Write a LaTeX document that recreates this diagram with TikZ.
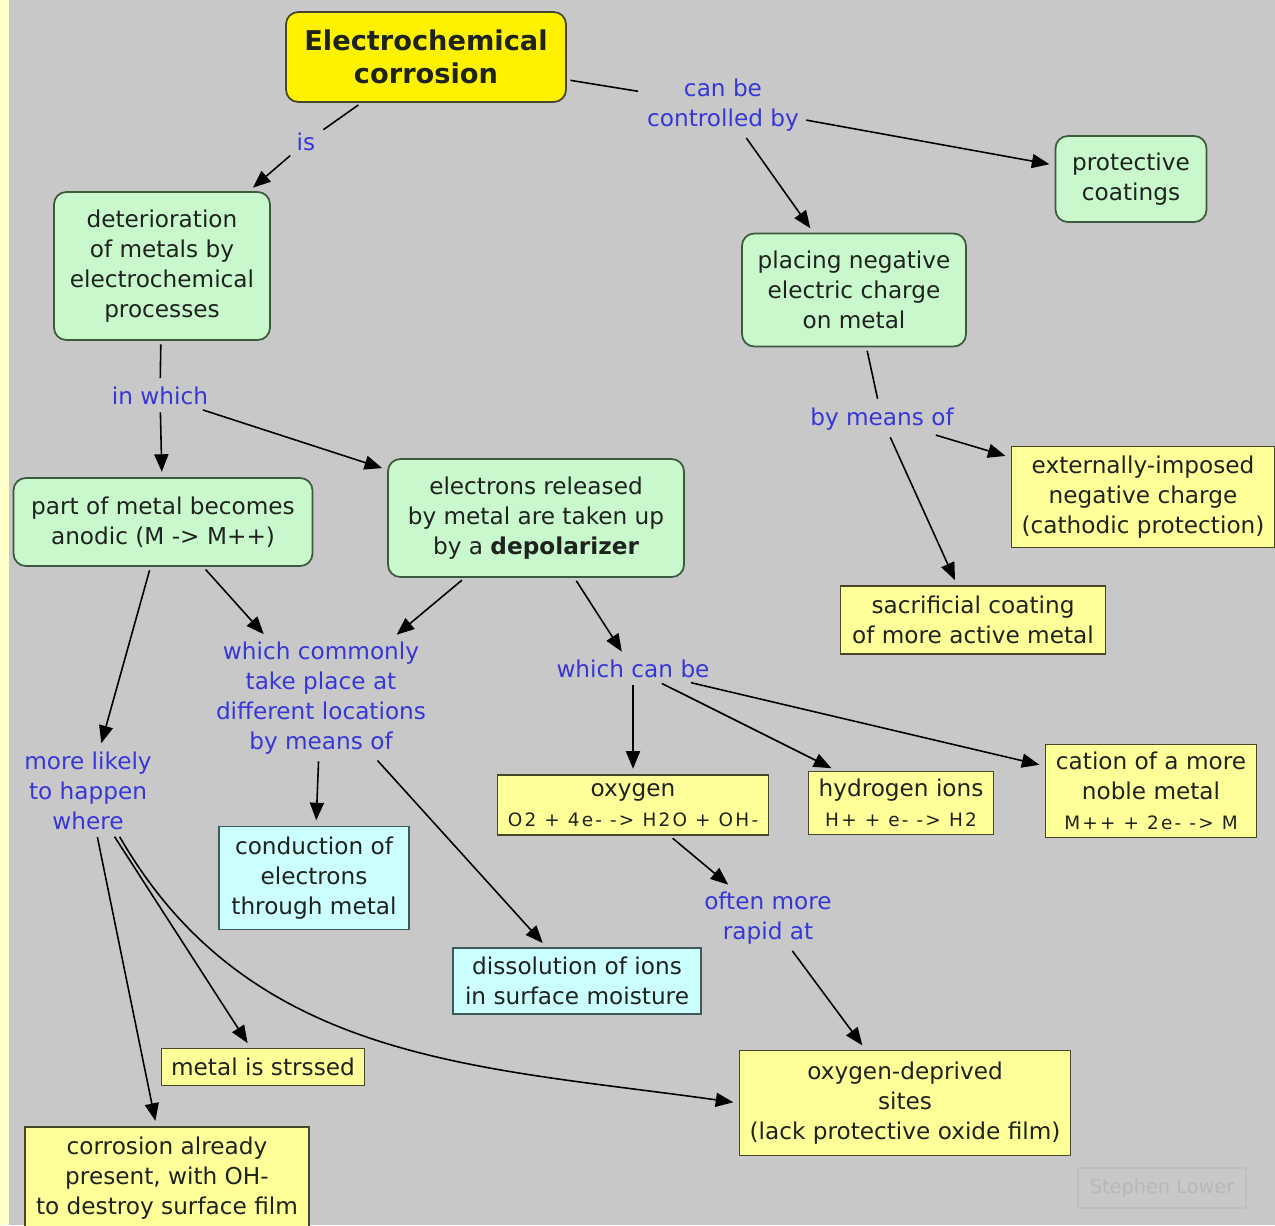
\documentclass[tikz,border=0pt]{standalone}
\usepackage{fontspec}
\setmainfont{DejaVu Sans}
\newfontfamily\eqfont[LetterSpace=12]{DejaVu Sans}
\usetikzlibrary{arrows.meta,positioning}
\definecolor{bggray}{RGB}{200,200,200}
\definecolor{strip}{RGB}{255,255,204}
\definecolor{cgreen}{RGB}{200,248,204}
\definecolor{cgreenline}{RGB}{60,90,60}
\definecolor{cyellow}{RGB}{255,255,153}
\definecolor{ctitle}{RGB}{255,242,0}
\definecolor{cyan2}{RGB}{204,255,255}
\definecolor{boxline}{RGB}{70,70,40}
\definecolor{cyanline}{RGB}{60,90,90}
\definecolor{clink}{RGB}{55,55,215}
\definecolor{ctext}{RGB}{30,35,30}
\tikzset{
	sz/.style 2 args={minimum width=#1*0.02cm, minimum height=#2*0.02cm},
	concept/.style={draw=cgreenline, fill=cgreen, rounded corners=7pt, line width=1pt, align=center, text=ctext, inner sep=2pt},
	titlebox/.style={concept, draw=boxline, fill=ctitle, font=\fontsize{15.5}{19}\selectfont\bfseries},
	ybox/.style={draw=boxline, fill=cyellow, line width=1.1pt, align=center, text=ctext, inner sep=2pt},
	cbox/.style={ybox, draw=cyanline, fill=cyan2},
	lnk/.style={text=clink, align=center, inner sep=2pt},
	con/.style={line width=0.9pt, shorten <=2pt, shorten >=3pt},
	arr/.style={con, -{Triangle[length=10pt,width=8pt]}},
}
\newcommand{\eqline}[1]{{\eqfont\fontsize{10.5}{13}\selectfont #1}}
\begin{document}
\begin{tikzpicture}[x=0.02cm, y=-0.02cm, font=\fontsize{13.2}{17}\selectfont]
\fill[bggray] (0,0) rectangle (1275,1225);
\fill[strip] (0,0) rectangle (9,1225);
\useasboundingbox (0,0) rectangle (1275,1225);

\node[titlebox, sz={280}{90}] (ec) at (426,57) {Electrochemical\\corrosion};
\node[concept, sz={216}{148}] (det) at (162,266) {deterioration\\of metals by\\electrochemical\\processes};
\node[concept, sz={151}{86}] (prot) at (1131,179) {protective\\coatings};
\node[concept, sz={224}{113}] (plac) at (854,290) {placing negative\\electric charge\\on metal};
\node[concept, sz={299}{88}] (part) at (163,522) {part of metal becomes\\anodic (M -> M++)};
\node[concept, sz={296}{118}] (elec) at (536,518) {electrons released\\by metal are taken up\\by a \textbf{depolarizer}};
\node[ybox, sz={263}{101}] (ext) at (1143,497) {externally-imposed\\negative charge\\(cathodic protection)};
\node[ybox, sz={265}{68}] (sac) at (973,620) {sacrificial coating\\of more active metal};
\node[ybox, sz={271}{60}] (oxy) at (633,805) {oxygen\\\eqline{O2 + 4e- -> H2O + OH-}};
\node[ybox, sz={185}{63}] (hyd) at (901,803) {hydrogen ions\\\eqline{H+ + e- -> H2}};
\node[ybox, sz={211}{93}] (cat) at (1151,791) {cation of a more\\noble metal\\\eqline{M++ + 2e- -> M}};
\node[cbox, sz={190}{103}] (cond) at (314,878) {conduction of\\electrons\\through metal};
\node[cbox, sz={248}{66}] (diss) at (577,981) {dissolution of ions\\in surface moisture};
\node[ybox, sz={203}{37}] (strs) at (263,1067) {metal is strssed};
\node[ybox, sz={284}{102}] (alr) at (167,1178) {corrosion already\\present, with OH-\\to destroy surface film};
\node[ybox, sz={331}{105}] (odep) at (905,1103) {oxygen-deprived\\sites\\(lack protective oxide film)};
\node[draw=black!25, text=black!28, line width=0.8pt, sz={168}{40}, font=\fontsize{11}{13}\selectfont] (sl) at (1162,1188) {Stephen Lower};

\node[lnk] (is) at (306,142) {is};
\node[lnk] (ctl) at (723,105) {can be\\controlled by};
\node[lnk] (inw) at (160,396) {in which};
\node[lnk] (bmo) at (882,419) {by means of};
\node[lnk] (wct) at (321,698) {which commonly\\take place at\\different locations\\by means of};
\node[lnk] (wcb) at (633,669) {which can be};
\node[lnk] (mlh) at (88,791) {more likely\\to happen\\where};
\node[lnk] (omr) at (768,918) {often more\\rapid at};

\draw[con] (ec) -- (is);
\draw[arr] (is) -- (det);
\draw[con] (ec) -- (ctl);
\draw[arr] (ctl) -- (prot);
\draw[arr] (ctl) -- (plac);
\draw[con] (det) -- (inw);
\draw[arr] (inw) -- (part);
\draw[arr] (inw) -- (elec);
\draw[con] (plac) -- (bmo);
\draw[arr] (bmo) -- (ext);
\draw[arr] (bmo) -- (sac);
\draw[arr] (part) -- (mlh);
\draw[arr] (part) -- (wct);
\draw[arr] (elec.220) -- (wct);
\draw[arr] (elec) -- (wcb);
\draw[arr] (wcb) -- (oxy);
\draw[arr] (wcb) -- (hyd);
\draw[arr] (wcb) -- (cat);
\draw[arr] (wct) -- (cond);
\draw[arr] (wct) -- (diss);
\draw[arr] (oxy) -- (omr);
\draw[arr] (omr) -- (odep);
\draw[arr] (mlh.-60) -- (strs);
\draw[arr] (mlh) -- (alr);
\draw[arr] (mlh.-55) to[out=-60, in=172] (odep.west);
\end{tikzpicture}
\end{document}
